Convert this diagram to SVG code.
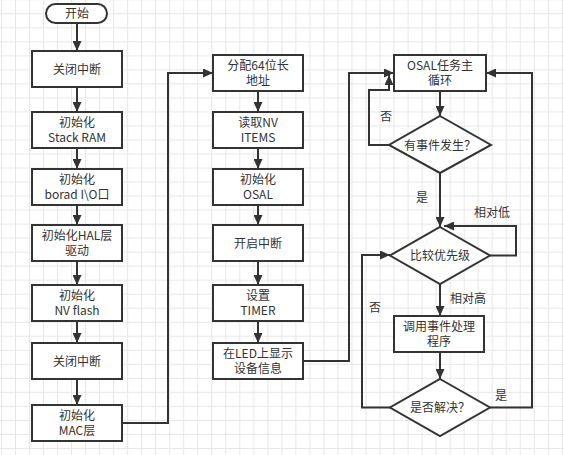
<svg xmlns="http://www.w3.org/2000/svg" width="564" height="455" viewBox="0 0 564 455">
<defs>
<pattern id="grid" patternUnits="userSpaceOnUse" x="1" y="-0.7" width="14.02" height="14.02">
<path d="M0,0.5 H14.02 M0.5,0 V14.02" fill="none" stroke="#e6e6e6" stroke-width="1"/>
</pattern>
<marker id="arr" markerUnits="userSpaceOnUse" markerWidth="10" markerHeight="9" refX="10" refY="4.5" orient="auto">
<path d="M0,0 L10,4.5 L0,9 z" fill="#333"/>
</marker>
<style>
.n{fill:#fff;stroke:#333;stroke-width:2}
.c{fill:none;stroke:#333;stroke-width:2;marker-end:url(#arr)}
text{font-family:"Noto Sans CJK SC","Noto Sans",sans-serif;font-size:12px;fill:#333;text-anchor:middle}
</style>
</defs>
<rect width="564" height="455" fill="#fff"/>
<rect width="564" height="455" fill="url(#grid)"/>

<g id="connectors">
<path class="c" d="M77,23 V51"/>
<path class="c" d="M77,87 V112"/>
<path class="c" d="M77,148 V169"/>
<path class="c" d="M77,205 V225"/>
<path class="c" d="M77,261 V285"/>
<path class="c" d="M77,321 V343"/>
<path class="c" d="M77,379 V405"/>
<path class="c" d="M122,423 H168 V73 H213"/>
<path class="c" d="M258,91 V112"/>
<path class="c" d="M258,148 V169"/>
<path class="c" d="M258,205 V225"/>
<path class="c" d="M258,261 V285"/>
<path class="c" d="M258,321 V343"/>
<path class="c" d="M303,361 H349 V73 H394"/>
<path class="c" d="M389,145 H369 V90 H389 V75"/>
<path class="c" d="M440,91 V116"/>
<path class="c" d="M440,173 V227"/>
<path class="c" d="M490,255.5 H516 V226 H444"/>
<path class="c" d="M440,284 V316"/>
<path class="c" d="M440,352 V379"/>
<path class="c" d="M390,407.5 H362 V255 H390"/>
<path class="c" d="M490,407.5 H532 V73 H486"/>
<text x="386" y="120.5">否</text>
<text x="422" y="201.5">是</text>
<text x="492" y="216.5">相对低</text>
<text x="468" y="302.5">相对高</text>
<text x="375" y="311.5">否</text>
<text x="501" y="399.5">是</text>
</g>

<g id="start"><rect class="n" x="46" y="4" width="61" height="19" rx="9.5"/><text x="77" y="18">开始</text></g>
<g id="l1"><rect class="n" x="32" y="51" width="90" height="36"/><text x="77" y="73.5">关闭中断</text></g>
<g id="l2"><rect class="n" x="32" y="112" width="90" height="36"/><text x="77" y="127">初始化<tspan x="77" dy="15">Stack RAM</tspan></text></g>
<g id="l3"><rect class="n" x="32" y="169" width="90" height="36"/><text x="77" y="184">初始化<tspan x="77" dy="15">borad I\O口</tspan></text></g>
<g id="l4"><rect class="n" x="32" y="225" width="90" height="36"/><text x="77" y="240">初始化HAL层<tspan x="77" dy="15">驱动</tspan></text></g>
<g id="l5"><rect class="n" x="32" y="285" width="90" height="36"/><text x="77" y="300">初始化<tspan x="77" dy="15">NV flash</tspan></text></g>
<g id="l6"><rect class="n" x="32" y="343" width="90" height="36"/><text x="77" y="365.5">关闭中断</text></g>
<g id="l7"><rect class="n" x="32" y="405" width="90" height="36"/><text x="77" y="420">初始化<tspan x="77" dy="15">MAC层</tspan></text></g>

<g id="m1"><rect class="n" x="213" y="55" width="90" height="36"/><text x="258" y="70">分配64位长<tspan x="258" dy="15">地址</tspan></text></g>
<g id="m2"><rect class="n" x="213" y="112" width="90" height="36"/><text x="258" y="127">读取NV<tspan x="258" dy="15">ITEMS</tspan></text></g>
<g id="m3"><rect class="n" x="213" y="169" width="90" height="36"/><text x="258" y="184">初始化<tspan x="258" dy="15">OSAL</tspan></text></g>
<g id="m4"><rect class="n" x="213" y="225" width="90" height="36"/><text x="258" y="247.5">开启中断</text></g>
<g id="m5"><rect class="n" x="213" y="285" width="90" height="36"/><text x="258" y="300">设置<tspan x="258" dy="15">TIMER</tspan></text></g>
<g id="m6"><rect class="n" x="213" y="343" width="90" height="36"/><text x="258" y="358">在LED上显示<tspan x="258" dy="15">设备信息</tspan></text></g>

<g id="r1"><rect class="n" x="394" y="55" width="92" height="36"/><text x="440" y="70">OSAL任务主<tspan x="440" dy="15">循环</tspan></text></g>
<g id="d1"><polygon class="n" points="440,116 491,145 440,173 389,145"/><text x="440" y="149.5">有事件发生？</text></g>
<g id="d2"><polygon class="n" points="440,227 490,255.5 440,284 390,255.5"/><text x="440" y="260">比较优先级</text></g>
<g id="r2"><rect class="n" x="394" y="316" width="90" height="36"/><text x="439" y="331">调用事件处理<tspan x="439" dy="15">程序</tspan></text></g>
<g id="d3"><polygon class="n" points="440,379 490,407.5 440,436 390,407.5"/><text x="440" y="412">是否解决？</text></g>
</svg>
